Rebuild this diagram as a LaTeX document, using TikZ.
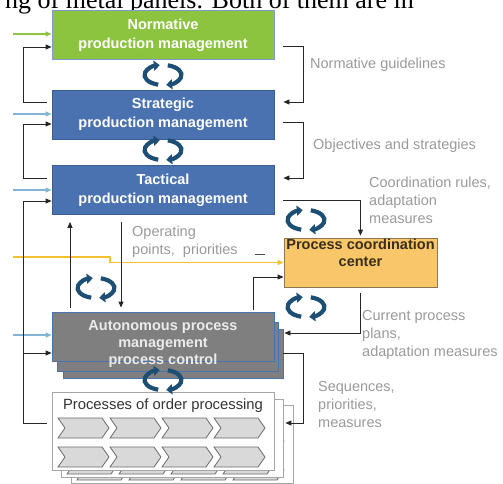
\documentclass[tikz,border=0pt]{standalone}
\usepackage{fontspec}
\setmainfont{Liberation Sans}
\newfontfamily\pagefont{Liberation Serif}
\usetikzlibrary{arrows.meta,calc}

\definecolor{normgreen}{HTML}{8CC43F}
\definecolor{mgmtblue}{HTML}{4A72B0}
\definecolor{mgmtedge}{HTML}{3B5E92}
\definecolor{autgray}{HTML}{7F7F7F}
\definecolor{coordfill}{HTML}{F9C76A}
\definecolor{coordedge}{HTML}{8A7855}
\definecolor{coordtext}{HTML}{3A2E1A}
\definecolor{inblue}{HTML}{82B4D8}
\definecolor{inyellow}{HTML}{F2C230}
\definecolor{labelgray}{HTML}{9A9A9A}
\definecolor{cycleblue}{HTML}{1D4E73}
\definecolor{chevfill}{HTML}{D9D9D9}
\definecolor{chevedge}{HTML}{6B6B6B}

\tikzset{
  mgmt/.style={draw=mgmtedge, line width=0.8pt, minimum width=222pt, minimum height=49pt,
    text=white, font=\fontsize{14.5}{19}\selectfont\bfseries, align=center, inner sep=0pt},
  boxtext/.style={text=white!92!black, font=\fontsize{14.5}{17}\selectfont\bfseries, align=center, inner sep=0pt},
  lbl/.style={text=labelgray, font=\fontsize{14.5}{18}\selectfont, align=left, anchor=west, inner sep=0pt},
  arr/.style={draw=black!85, line width=0.8pt, -{Triangle[length=6pt,width=5pt]}},
  inarr/.style={line width=1.2pt, -{Triangle[length=6pt,width=5pt]}},
  procbox/.style={draw=black!35, line width=0.8pt, fill=white},
  chev/.style={draw=chevedge, line width=0.8pt, fill=chevfill},
  cyc/.pic={
    \draw[cycleblue, line width=4.2pt, -{Triangle[length=6pt,width=10pt]}]
      (255:18.5pt and 10pt) arc[start angle=255, end angle=100, x radius=18.5pt, y radius=10pt];
    \draw[cycleblue, line width=4.2pt, -{Triangle[length=6pt,width=10pt]}]
      (75:18.5pt and 10pt) arc[start angle=75, end angle=-80, x radius=18.5pt, y radius=10pt];
  }
}

\begin{document}
\begin{tikzpicture}[x=1pt, y=-1pt]

  \useasboundingbox (0,0) rectangle (503,484);
  \clip (0,0) rectangle (503,484);

  % text of the page above the figure
  \node[anchor=base west, inner sep=0pt, font=\pagefont\fontsize{26}{30}\selectfont] (pagetext) at (5,9)
    {ng of metal panels. Both of them are in};

  % management levels
  \node[mgmt, fill=normgreen, draw=mgmtblue!70] (norm) at (163,35) {Normative\\production management};
  \node[mgmt, fill=mgmtblue] (strat) at (163,114.5) {Strategic\\production management};
  \node[mgmt, fill=mgmtblue] (tact) at (163,190) {Tactical\\production management};

  \node[draw=coordedge, line width=0.8pt, fill=coordfill, minimum width=153pt, minimum height=49pt,
    text=coordtext, font=\fontsize{14.5}{17}\selectfont\bfseries, align=center, inner sep=0pt]
    (pcc) at (360.5,262.5) {Process coordination\\center\\[3pt]};

  % autonomous process management, stacked
  \draw[draw=mgmtblue, line width=0.8pt, fill=autgray] (63,329) rectangle ++(220,49);
  \draw[draw=mgmtblue, line width=0.8pt, fill=autgray] (57,322) rectangle ++(221,49);
  \node[mgmt, fill=autgray, draw=mgmtblue] (auton) at (163,336.5) {};
  \node[boxtext] (autontext) at (163,344) {Autonomous process\\management\\process control};

  % processes of order processing, stacked
  \foreach \dx/\dy in {19/13, 9/7} {
    \draw[procbox] (52+\dx,392+\dy) rectangle ++(222,78);
    \foreach \cx in {58,110,162,214}
      \foreach \cy in {418,447}
        \draw[chev] (\cx+\dx,\cy+\dy) -- ++(44,0) -- ++(7,10) -- ++(-7,10) -- ++(-44,0) -- ++(7,-10) -- cycle;
  }
  \node[procbox, minimum width=222pt, minimum height=78pt, inner sep=0pt] (proc) at (163,431) {};
  \node[text=black!80, font=\fontsize{14.8}{17}\selectfont, inner sep=0pt] (proctitle) at (163,406)
    {Processes of order processing};
  \foreach \cx in {58,110,162,214}
    \foreach \cy in {418,447}
      \draw[chev] (\cx,\cy) -- ++(44,0) -- ++(7,10) -- ++(-7,10) -- ++(-44,0) -- ++(7,-10) -- cycle;

  % inputs from the left
  \coordinate (gin) at (13,34);
  \coordinate (bin1) at (13,114);
  \coordinate (bin2) at (13,190);
  \coordinate (bin3) at (13,335);
  \coordinate (yin) at (13,257);
  \draw[inarr, draw=normgreen] (gin) -- (gin -| norm.west);
  \draw[inarr, draw=inblue] (bin1) -- (bin1 -| strat.west);
  \draw[inarr, draw=inblue] (bin2) -- (bin2 -| tact.west);
  \draw[inarr, draw=inblue] (bin3) -- (bin3 -| auton.west);
  \draw[inarr, draw=inyellow, line width=1.4pt] (yin) -- ++(97,0) |- (pcc.west);

  % feedback on the left
  \draw[arr] ($(strat.west)+(-5,-12)$) -- ++(-23,0) |- ($(norm.west)+(0,12)$);
  \draw[arr] ($(tact.west)+(-5,-12)$) -- ++(-23,0) |- ($(strat.west)+(0,9.5)$);
  \draw[arr] ($(proc.west)+(-5,-8)$) -- ++(-23,0) |- ($(tact.west)+(0,11)$);
  \draw[arr] ($(auton.west)+(-28,16.5)$) -- ($(auton.west)+(0,16.5)$);

  % between tactical level and processes
  \draw[arr] ($(tact.south)+(-42,7)$) -- ($(auton.north)+(-42,-4)$);
  \draw[arr] ($(auton.north)+(-93,-4)$) -- ($(tact.south)+(-93,7)$);
  \draw[arr] ($(auton.north)+(90,-2)$) |- ($(pcc.west)+(0,14.5)$);
  \draw[line width=1pt, black!70] ($(pcc.west)+(-29,-8.5)$) -- ++(10,0);

  % orders going down on the right
  \draw[arr] ($(norm.east)+(9,11)$) -- ++(20,0) |- ($(strat.east)+(9,-12.5)$);
  \draw[arr] ($(strat.east)+(9,7.5)$) -- ++(20,0) |- ($(tact.east)+(9,-12)$);
  \draw[arr] ($(tact.east)+(9,10)$) -| ($(pcc.north)+(0,-2)$);
  \draw[arr] ($(pcc.south)+(0,6)$) |- ($(auton.east)+(10,-3.5)$);
  \draw[arr] ($(auton.east)+(9,16.5)$) -- ++(20,0) |- ($(proc.east)+(11,-8)$);

  % labels
  \node[lbl] (lblnorm) at (310,65) {Normative guidelines};
  \node[lbl] (lblobj) at (313,146) {Objectives and strategies};
  \node[lbl] (lblcoord) at (369,200) {Coordination rules,\\adaptation\\measures};
  \node[lbl] (lblop) at (132,242) {Operating\\points,\ \ priorities};
  \node[lbl] (lblcur) at (362,335) {Current process\\plans,\\adaptation measures};
  \node[lbl] (lblseq) at (318,405) {Sequences,\\priorities,\\measures};

  % control loops
  \pic at (163,75) {cyc};
  \pic at (163,150) {cyc};
  \pic at (96,288) {cyc};
  \pic at (306,220) {cyc};
  \pic at (306,307) {cyc};
  \pic at (163,380) {cyc};

\end{tikzpicture}
\end{document}
